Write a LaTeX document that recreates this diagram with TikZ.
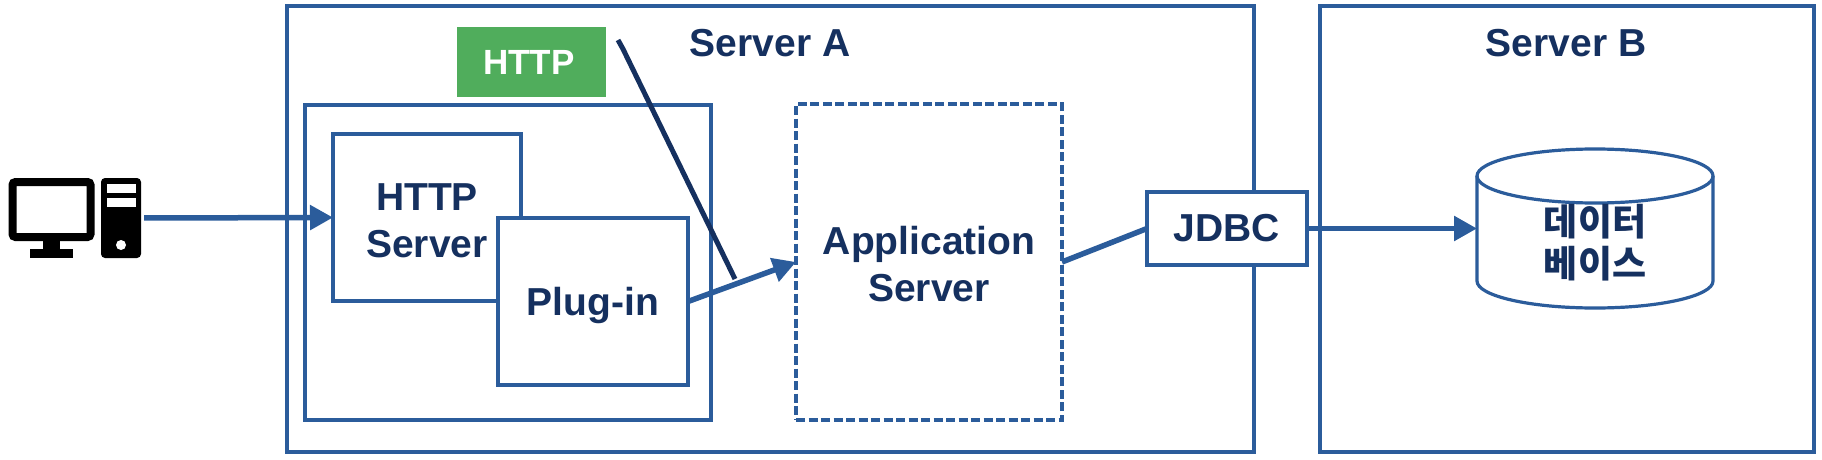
\documentclass[tikz,border=0pt]{standalone}
\usepackage{fontspec}
\setmainfont{Liberation Sans}
\newfontfamily\krfont{Noto Sans CJK KR}
\usepackage{tikz}
\usetikzlibrary{arrows.meta}
\definecolor{boxblue}{HTML}{2B5C9B}
\definecolor{textnavy}{HTML}{15305F}
\definecolor{httpgreen}{HTML}{50AD5C}
\tikzset{
  box/.style={draw=boxblue, line width=3.2pt, fill=white, inner sep=0pt, outer sep=0pt, text=textnavy, align=center,
    font=\bfseries\fontsize{39}{47}\selectfont},
  title/.style={inner sep=0pt, text=textnavy, font=\bfseries\fontsize{39}{47}\selectfont},
  link/.style={draw=boxblue, line width=5.5pt},
  flow/.style={link, -{Triangle[length=23pt,width=24pt]}},
}

\begin{document}
\begin{tikzpicture}[x=1pt, y=-1pt]
\useasboundingbox (0, 0) rectangle (1822, 460);

% servers
\node at (770.5, 229) (serverA) [box, minimum width=967, minimum height=446] {};
\node at (1567, 229) (serverB) [box, minimum width=494, minimum height=446] {};
\node at (770, 43) (titleA) [title] {Server A};
\node at (1566, 43) (titleB) [title] {Server B};

% web server side
\node at (531.5, 62) (http) [fill=httpgreen, minimum width=149, minimum height=70, inner sep=0pt,
  text=white, font=\bfseries\fontsize{35}{42}\selectfont] {HTTP\kern5pt};
\node at (508, 262.5) (web) [box, minimum width=406, minimum height=315] {};
\node at (427, 217.5) (httpserver) [box, minimum width=188, minimum height=167] {\rule{0pt}{33pt}HTTP\\Server};
\node at (593, 301.5) (plugin) [box, minimum width=190, minimum height=167] {\rule{0pt}{36pt}Plug-in};

% application server, driver and database
\node at (929, 262) (appserver) [box, dash pattern=on 9pt off 3.5pt, minimum width=266, minimum height=316] {\rule{0pt}{33pt}Application\\Server};
\node at (1227, 228.5) (jdbc) [box, minimum width=160, minimum height=73] {JDBC};
\node at (1595, 228.5) (db) [minimum width=236, minimum height=159, inner sep=0pt, outer sep=0pt] {};
\draw[draw=boxblue, line width=3.2pt] (db.west |- 0, 176) -- (db.west |- 0, 281)
  arc[start angle=180, end angle=360, x radius=118pt, y radius=27pt] -- (db.east |- 0, 176);
\coordinate (dbtop) at (1595, 176);
\draw[draw=boxblue, line width=3.2pt] (dbtop) ellipse [x radius=118pt, y radius=27pt];
\node at (1595, 243) (dbtext) [inner sep=0pt, text=textnavy, align=center,
  font=\krfont\bfseries\fontsize{37}{42}\selectfont] {데이터\\베이스};

% computer
\node at (51.5, 209.5) (monitor) [draw=black, line width=8pt, rounded corners=3pt, minimum width=78, minimum height=55, inner sep=0pt] {};
\node at (121, 218) (tower) [fill=black, rounded corners=4pt, minimum width=40, minimum height=80, inner sep=0pt] {};
\fill[black] (43, 241) rectangle (60, 250);
\fill[black] (30, 249) rectangle (73, 258);
\fill[white] (107, 184) rectangle (136, 193);
\fill[white] (107, 198) rectangle (136, 207);
\fill[white] (121, 245) circle (5);

% connectors
\draw[flow, shorten <=3pt] (tower.east) -- (httpserver.west);
\draw[flow] (plugin.east) -- (appserver.west);
\draw[link] (appserver.east) -- (jdbc.west);
\draw[flow] (jdbc.east) -- (db.west);

\coordinate (slashtop) at (618, 40);
\coordinate (slashbend) at (623, 49);
\coordinate (slashend) at (735, 279);
\draw[textnavy, line width=5pt] (slashtop) -- (slashbend) -- (slashend);
\end{tikzpicture}
\end{document}
